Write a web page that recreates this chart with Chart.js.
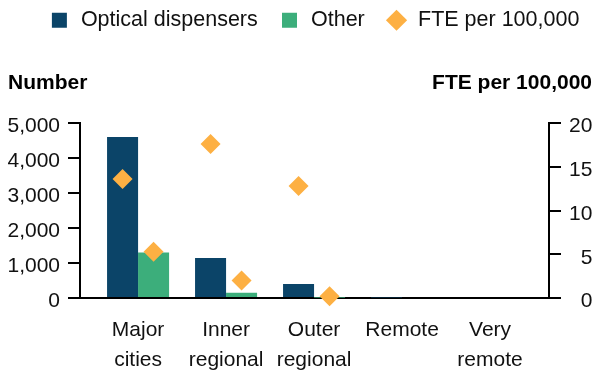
<!DOCTYPE html>
<html>
<head>
<meta charset="utf-8">
<script src="https://cdn.jsdelivr.net/npm/chart.js@4/dist/chart.umd.min.js"></script>
<style>
  html, body { margin: 0; padding: 0; background: #ffffff; }
  canvas { display: block; }
</style>
</head>
<body>
<canvas id="chart" width="596" height="372"></canvas>
<script>
// Remoteness areas (multi-line tick labels)
const categories = [['Major', 'cities'], ['Inner', 'regional'], ['Outer', 'regional'], ['Remote'], ['Very', 'remote']];

// Employed workers (left axis)
const opticalDispensers = [4600, 1140, 400, 15, 0];
const otherWorkers = [1300, 150, 10, 0, 0];

// FTE per 100,000 population (right axis), one point per bar
const fteOptical = [13.6, 17.6, 12.8, null, null];
const fteOther = [5.3, 2.0, 0.2, null, null];

// Axis ticks
const numberTicks = [0, 1000, 2000, 3000, 4000, 5000];
const fteTicks = [0, 5, 10, 15, 20];

const COLORS = { optical: '#0b4468', other: '#3cae7b', fte: '#fdb043', ink: '#111111' };
const FONT = '"Liberation Sans", Arial, Helvetica, sans-serif';
const CAT_PCT = 0.705;
const FIGURE_SPACE = '\u2007';

// each bar's centre sits a quarter of the group width from the category centre
const barShift = CAT_PCT / 4;
const ftePoints = [];
categories.forEach((_, i) => {
  if (fteOptical[i] !== null) ftePoints.push({ x: i - barShift, y: fteOptical[i] });
  if (fteOther[i] !== null) ftePoints.push({ x: i + barShift, y: fteOther[i] });
});

Chart.defaults.font.family = FONT;
Chart.defaults.font.size = 21;
Chart.defaults.color = COLORS.ink;

// Horizontal captions above both value axes
const axisCaptions = {
  id: 'axisCaptions',
  afterDraw(chart, args, opts) {
    const { ctx, chartArea, width } = chart;
    ctx.save();
    ctx.font = 'bold 21px ' + FONT;
    ctx.fillStyle = '#000000';
    ctx.textBaseline = 'alphabetic';
    ctx.textAlign = 'left';
    ctx.fillText(opts.left, opts.leftX, chartArea.top - opts.gap);
    ctx.textAlign = 'right';
    ctx.fillText(opts.right, width - opts.rightInset, chartArea.top - opts.gap);
    ctx.restore();
  }
};

const axisLine = { display: true, color: '#000000', width: 2 };
const outerTicks = { display: true, drawOnChartArea: false, drawTicks: true, tickLength: 12, color: '#000000', lineWidth: 2 };

new Chart(document.getElementById('chart'), {
  data: {
    datasets: [
      {
        type: 'bar',
        label: 'Optical dispensers',
        data: opticalDispensers.map((v, i) => ({ x: i, y: v })),
        backgroundColor: COLORS.optical,
        borderWidth: 0,
        pointStyle: 'rect',
        categoryPercentage: CAT_PCT,
        barPercentage: 1,
        yAxisID: 'y',
        order: 2
      },
      {
        type: 'bar',
        label: 'Other',
        data: otherWorkers.map((v, i) => ({ x: i, y: v })),
        backgroundColor: COLORS.other,
        borderWidth: 0,
        pointStyle: 'rect',
        categoryPercentage: CAT_PCT,
        barPercentage: 1,
        yAxisID: 'y',
        order: 2
      },
      {
        type: 'line',
        label: 'FTE per 100,000',
        data: ftePoints,
        showLine: false,
        pointStyle: 'rectRot',
        pointRadius: 10,
        pointHoverRadius: 10,
        pointBackgroundColor: COLORS.fte,
        backgroundColor: COLORS.fte,
        borderColor: COLORS.fte,
        pointBorderWidth: 0,
        borderWidth: 0,
        clip: false,
        yAxisID: 'y1',
        order: 1
      }
    ]
  },
  options: {
    responsive: false,
    animation: false,
    devicePixelRatio: 1,
    // the right overhang centres the legend over the plot area
    layout: { padding: { top: -11.5, left: 0, right: -32, bottom: 0 } },
    plugins: {
      tooltip: { enabled: false },
      legend: {
        position: 'top',
        labels: {
          usePointStyle: true,
          boxWidth: 22,
          boxHeight: 15,
          padding: 21,
          color: COLORS.ink,
          font: { size: 21.5 },
          sort: (a, b) => a.datasetIndex - b.datasetIndex
        }
      },
      // empty spacer row between the legend and the plot, holding the captions
      title: {
        display: true,
        text: ' ',
        weight: 500,
        padding: { top: 58, bottom: 0 },
        font: { size: 20, lineHeight: 1.2 }
      },
      axisCaptions: { left: 'Number', right: 'FTE per 100,000', leftX: 8, rightInset: 4, gap: 34 }
    },
    scales: {
      x: {
        type: 'linear',
        offset: false,
        min: -0.66,
        max: 4.67,
        afterBuildTicks(scale) {
          scale.ticks = categories.map((_, i) => ({ value: i }));
        },
        afterFit(scale) { scale.height = 74; },
        grid: { display: false },
        border: axisLine,
        ticks: {
          autoSkip: false,
          maxRotation: 0,
          padding: 10,
          font: { size: 21, lineHeight: 1.4 },
          callback: (value) => categories[value]
        }
      },
      y: {
        type: 'linear',
        position: 'left',
        min: 0,
        max: 5000,
        afterBuildTicks(scale) {
          scale.ticks = numberTicks.map(v => ({ value: v }));
        },
        afterFit(scale) { scale.width = 80; },
        grid: outerTicks,
        border: axisLine,
        ticks: {
          padding: 8,
          labelOffset: 3.5,
          callback: (value) => value.toLocaleString('en-US')
        }
      },
      y1: {
        type: 'linear',
        position: 'right',
        min: 0,
        max: 20,
        afterBuildTicks(scale) {
          scale.ticks = fteTicks.map(v => ({ value: v }));
        },
        afterFit(scale) { scale.width = 79; },
        grid: outerTicks,
        border: axisLine,
        ticks: {
          padding: 8,
          labelOffset: 3.5,
          // figure spaces keep the numbers right-aligned
          callback: (value) => String(value).padStart(2, FIGURE_SPACE)
        }
      }
    }
  },
  plugins: [axisCaptions]
});
</script>
</body>
</html>
